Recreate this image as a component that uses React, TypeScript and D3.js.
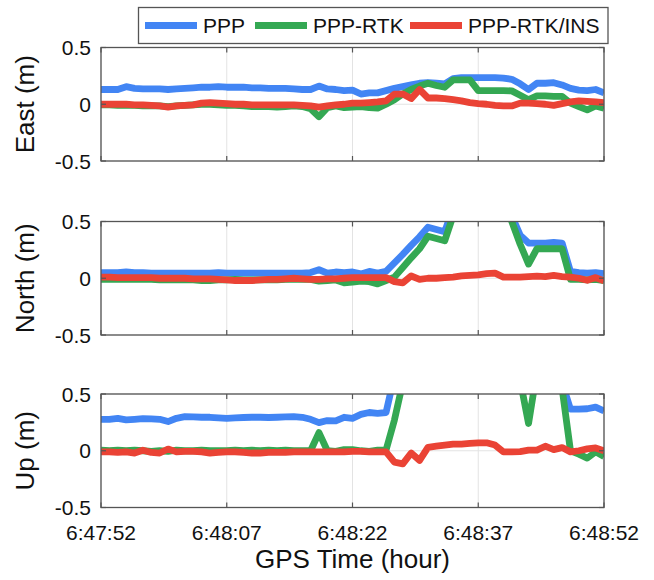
import React from "react";
import * as d3 from "d3";

// seconds since 6:47:52
const seconds = [
  0, 1, 2, 3, 4, 5, 6, 7, 8, 9, 10, 11, 12, 13, 14, 15, 16, 17, 18, 19, 20,
  21, 22, 23, 24, 25, 26, 27, 28, 29, 30, 31, 32, 33, 34, 35, 36, 37, 38, 39,
  40, 41, 42, 43, 44, 45, 46, 47, 48, 49, 50, 51, 52, 53, 54, 55, 56, 57, 58,
  59, 60,
];

const tickSeconds = [0, 15, 30, 45, 60];
const tickLabels = ["6:47:52", "6:48:07", "6:48:22", "6:48:37", "6:48:52"];
const yTicks = [-0.5, 0, 0.5];
const yTickLabels = ["-0.5", "0", "0.5"];

const seriesNames = ["PPP", "PPP-RTK", "PPP-RTK/INS"];
const seriesColors = ["#4285F4", "#34A853", "#EA4335"];
const panelNames = ["East (m)", "North (m)", "Up (m)"];

// East
const eastPPP = [
  0.13, 0.13, 0.13, 0.155, 0.14, 0.135, 0.135, 0.135, 0.13, 0.135,
  0.14, 0.145, 0.15, 0.15, 0.155, 0.15, 0.15, 0.15, 0.145, 0.145,
  0.14, 0.14, 0.14, 0.135, 0.13, 0.13, 0.16, 0.135, 0.13, 0.12,
  0.125, 0.09, 0.1, 0.1, 0.12, 0.14, 0.155, 0.17, 0.185, 0.19,
  0.185, 0.18, 0.225, 0.235, 0.235, 0.235, 0.235, 0.235, 0.23, 0.22,
  0.18, 0.13, 0.185, 0.185, 0.19, 0.17, 0.14, 0.125, 0.12, 0.13, 0.1,
];
const eastRTK = [
  -0.005, -0.005, -0.01, -0.01, -0.01, -0.015, -0.015, -0.015, -0.02, -0.015,
  -0.01, -0.005, 0, 0, -0.005, -0.01, -0.01, -0.015, -0.02, -0.02,
  -0.02, -0.025, -0.02, -0.015, -0.02, -0.04, -0.11, -0.03, -0.015, -0.03,
  -0.025, -0.02, -0.03, -0.035, 0, 0.04, 0.09, 0.13, 0.16, 0.185,
  0.165, 0.15, 0.215, 0.215, 0.215, 0.12, 0.12, 0.12, 0.12, 0.118,
  0.08, 0.04, 0.073, 0.073, 0.07, 0.07, 0.01, -0.02, -0.05, -0.015, -0.035,
];
const eastINS = [
  0, 0, 0, 0, -0.005, -0.005, -0.01, -0.015, -0.025, -0.015,
  -0.01, -0.005, 0.01, 0.015, 0.01, 0.005, 0, 0, -0.005, -0.005,
  -0.005, -0.005, -0.005, -0.005, -0.01, -0.015, -0.025, -0.015, -0.005, 0,
  0.01, 0.01, 0.015, 0.02, 0.03, 0.09, 0.09, 0.05, 0.13, 0.055,
  0.055, 0.05, 0.04, 0.03, 0.015, 0.005, 0, -0.01, -0.015, -0.015,
  0.01, 0.01, 0.005, 0, -0.01, 0.005, 0.02, 0.03, 0.025, 0.02, 0.015,
];

// North
const northPPP = [
  0.05, 0.05, 0.05, 0.055, 0.05, 0.05, 0.045, 0.045, 0.045, 0.045,
  0.045, 0.045, 0.045, 0.045, 0.05, 0.045, 0.045, 0.045, 0.045, 0.045,
  0.045, 0.045, 0.045, 0.045, 0.045, 0.05, 0.075, 0.045, 0.055, 0.05,
  0.055, 0.038, 0.06, 0.045, 0.06, 0.135, 0.21, 0.29, 0.365, 0.45,
  0.43, 0.41, 0.62, 0.8, 0.9, 0.95, 0.9, 0.8, 0.7, 0.55,
  0.38, 0.31, 0.31, 0.31, 0.315, 0.31, 0.06, 0.05, 0.045, 0.05, 0.04,
];
const northRTK = [
  -0.01, -0.01, -0.01, -0.01, -0.01, -0.01, -0.01, -0.015, -0.015, -0.015,
  -0.015, -0.015, -0.02, -0.02, -0.015, -0.015, -0.01, -0.015, -0.015, -0.015,
  -0.015, -0.015, -0.01, -0.01, -0.01, -0.01, -0.025, -0.02, -0.015, -0.04,
  -0.035, -0.025, -0.03, -0.05, -0.02, 0.01, 0.095, 0.18, 0.26, 0.37,
  0.35, 0.33, 0.55, 0.75, 0.9, 1.0, 0.95, 0.85, 0.7, 0.5,
  0.3, 0.125, 0.26, 0.26, 0.26, 0.26, -0.01, -0.01, -0.015, -0.01, -0.02,
];
const northINS = [
  0.01, 0.01, 0.005, 0.005, 0.005, 0.005, 0.005, 0, 0, 0,
  0, -0.005, -0.005, -0.005, -0.01, -0.015, -0.02, -0.02, -0.02, -0.015,
  -0.01, -0.01, -0.005, 0, -0.005, -0.01, -0.01, -0.005, -0.005, 0,
  0.005, 0.005, 0.005, 0.005, 0.005, -0.03, -0.04, 0.02, -0.01, 0,
  0, 0.005, 0.01, 0.02, 0.025, 0.03, 0.04, 0.045, 0.01, 0.01,
  0.01, 0.015, 0.018, 0.015, 0.025, 0.015, 0.01, 0.0, -0.018, 0.006, -0.024,
];

// Up
const upPPP = [
  0.277, 0.277, 0.286, 0.272, 0.277, 0.283, 0.28, 0.277, 0.257, 0.286,
  0.3, 0.298, 0.295, 0.295, 0.29, 0.286, 0.29, 0.293, 0.295, 0.295,
  0.293, 0.295, 0.298, 0.3, 0.295, 0.277, 0.248, 0.266, 0.263, 0.295,
  0.286, 0.32, 0.337, 0.33, 0.337, 0.66, 0.9, 1.0, 1.1, 1.1,
  1.0, 0.95, 0.9, 0.9, 0.95, 1.0, 1.0, 0.95, 0.9, 0.85,
  0.8, 0.8, 0.75, 0.7, 0.65, 0.6, 0.366, 0.366, 0.37, 0.384, 0.35,
];
const upRTK = [
  0.005, 0.0, 0.005, 0.0, 0.005, 0.0, -0.005, 0.0, -0.005, 0.005,
  0.0, 0.0, 0.005, 0.0, 0.0, 0.0, 0.005, 0.0, 0.005, 0.0,
  0.005, 0.0, 0.005, 0.0, 0.0, 0.0, 0.16, 0.0, -0.005, 0.01,
  0.01, 0.0, -0.005, 0.005, 0.005, 0.27, 0.6, 0.9, 1.1, 1.2,
  1.2, 1.1, 1.0, 0.95, 0.9, 0.9, 0.85, 0.8, 0.75, 0.7,
  0.62, 0.24, 0.7, 0.8, 0.7, 0.55, 0.0, -0.03, -0.065, -0.01, -0.05,
];
const upINS = [
  -0.01, -0.01, -0.015, -0.01, -0.02, 0.005, -0.015, -0.02, 0.015, -0.01,
  -0.005, -0.005, -0.01, -0.02, -0.015, -0.01, -0.01, -0.015, -0.02, -0.02,
  -0.015, -0.015, -0.015, -0.01, -0.01, -0.01, -0.01, -0.01, -0.01, -0.01,
  -0.005, -0.005, -0.01, -0.01, -0.01, -0.1, -0.115, -0.02, -0.085, 0.03,
  0.04, 0.05, 0.058, 0.058, 0.064, 0.07, 0.07, 0.05, -0.01, -0.01,
  -0.008, 0.005, 0.005, 0.04, 0.01, 0.028, -0.01, 0.0, 0.016, 0.025, 0.0,
];

const panelSeries = [
  [eastPPP, eastRTK, eastINS],
  [northPPP, northRTK, northINS],
  [upPPP, upRTK, upINS],
];

const width = 654;
const height = 580;
const plotLeft = 101;
const plotRight = 604;
const panelTops = [47.5, 221.5, 394];
const panelHeight = 113.5;
const font = "'Liberation Sans', Arial, sans-serif";
const axisColor = "#555555";
const gridColor = "#e3e3e3";
const lineWidth = 6.8;

// legend layout
const legend = { x: 138.5, y: 7.5, w: 469.5, h: 36 };
const legendItemX = [145, 255, 410];
const legendLineLen = 52;

const App = () => {
  const x = d3.scaleLinear().domain([0, 60]).range([plotLeft, plotRight]);

  return (
    <svg
      width={width}
      height={height}
      style={{ position: "absolute", left: 0, top: 0, background: "#fff" }}
      fontFamily={font}
    >
      <defs>
        {panelTops.map((top, i) => (
          <clipPath id={`clip-${i}`} key={i}>
            <rect
              x={plotLeft}
              y={top}
              width={plotRight - plotLeft}
              height={panelHeight}
            />
          </clipPath>
        ))}
      </defs>

      {panelTops.map((top, pi) => {
        const y = d3
          .scaleLinear()
          .domain([-0.5, 0.5])
          .range([top + panelHeight, top]);
        const line = d3
          .line<number>()
          .x((_, i) => x(seconds[i]))
          .y((d) => y(d));

        return (
          <g key={pi}>
            {/* grid */}
            {tickSeconds.map((t) => (
              <line
                key={`gx${t}`}
                x1={x(t)}
                x2={x(t)}
                y1={top}
                y2={top + panelHeight}
                stroke={gridColor}
                strokeWidth={1}
              />
            ))}
            {yTicks.map((v) => (
              <line
                key={`gy${v}`}
                x1={plotLeft}
                x2={plotRight}
                y1={y(v)}
                y2={y(v)}
                stroke={gridColor}
                strokeWidth={1}
              />
            ))}

            {/* series */}
            <g clipPath={`url(#clip-${pi})`}>
              {panelSeries[pi].map((vals, si) => (
                <path
                  key={si}
                  d={line(vals) || ""}
                  fill="none"
                  stroke={seriesColors[si]}
                  strokeWidth={lineWidth}
                  strokeLinejoin="round"
                  strokeLinecap="butt"
                />
              ))}
            </g>

            {/* box + inward ticks */}
            <rect
              x={plotLeft}
              y={top}
              width={plotRight - plotLeft}
              height={panelHeight}
              fill="none"
              stroke={axisColor}
              strokeWidth={1.3}
            />
            {tickSeconds.map((t) => (
              <g key={`tx${t}`}>
                <line x1={x(t)} x2={x(t)} y1={top} y2={top + 5} stroke={axisColor} strokeWidth={1.2} />
                <line
                  x1={x(t)}
                  x2={x(t)}
                  y1={top + panelHeight}
                  y2={top + panelHeight - 5}
                  stroke={axisColor}
                  strokeWidth={1.2}
                />
              </g>
            ))}
            {yTicks.map((v) => (
              <g key={`ty${v}`}>
                <line x1={plotLeft} x2={plotLeft + 5} y1={y(v)} y2={y(v)} stroke={axisColor} strokeWidth={1.2} />
                <line x1={plotRight} x2={plotRight - 5} y1={y(v)} y2={y(v)} stroke={axisColor} strokeWidth={1.2} />
              </g>
            ))}

            {/* y tick labels */}
            {yTicks.map((v, i) => (
              <text
                key={`yl${v}`}
                x={plotLeft - 10}
                y={y(v)}
                dy="0.36em"
                textAnchor="end"
                fontSize={21}
                fill="#111"
              >
                {yTickLabels[i]}
              </text>
            ))}

            {/* y label */}
            <text
              transform={`translate(34, ${top + panelHeight / 2}) rotate(-90)`}
              textAnchor="middle"
              fontSize={26}
              fill="#111"
            >
              {panelNames[pi]}
            </text>

            {/* x tick labels on bottom panel only */}
            {pi === panelTops.length - 1 &&
              tickSeconds.map((t, i) => (
                <text
                  key={`xl${t}`}
                  x={x(t)}
                  y={top + panelHeight + 32}
                  textAnchor="middle"
                  fontSize={21}
                  fill="#111"
                >
                  {tickLabels[i]}
                </text>
              ))}
          </g>
        );
      })}

      {/* x axis title */}
      <text
        x={(plotLeft + plotRight) / 2}
        y={568}
        textAnchor="middle"
        fontSize={26}
        fill="#111"
      >
        GPS Time (hour)
      </text>

      {/* legend */}
      <rect
        x={legend.x}
        y={legend.y}
        width={legend.w}
        height={legend.h}
        fill="#fff"
        stroke={axisColor}
        strokeWidth={1.3}
      />
      {seriesNames.map((name, i) => (
        <g key={name}>
          <line
            x1={legendItemX[i]}
            x2={legendItemX[i] + legendLineLen}
            y1={legend.y + legend.h / 2}
            y2={legend.y + legend.h / 2}
            stroke={seriesColors[i]}
            strokeWidth={lineWidth}
          />
          <text
            x={legendItemX[i] + legendLineLen + 6}
            y={legend.y + legend.h / 2}
            dy="0.36em"
            fontSize={21}
            fill="#111"
          >
            {name}
          </text>
        </g>
      ))}
    </svg>
  );
};

export default App;
